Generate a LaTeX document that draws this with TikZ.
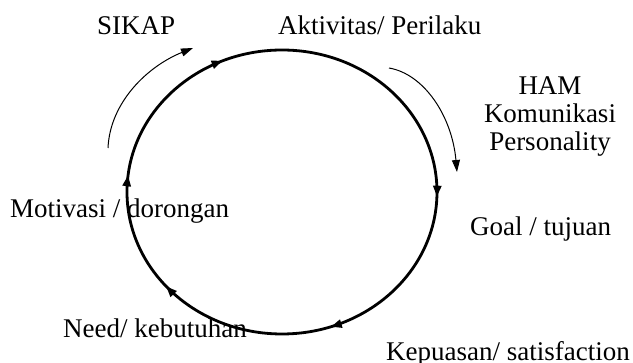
\documentclass[tikz,border=0pt]{standalone}
\usepackage{fontspec}
\setmainfont{Liberation Serif}
\usetikzlibrary{arrows.meta, decorations.markings}

\tikzset{
    txt/.style={inner sep=0pt, font=\fontsize{27}{28}\selectfont},
    ringtip/.style={decoration={markings,
        mark=at position 0.018 with {\arrow{Triangle[length=11pt, width=8pt]}},
        mark=at position 0.185 with {\arrow{Triangle[length=11pt, width=8pt]}},
        mark=at position 0.505 with {\arrow{Triangle[length=11pt, width=8pt]}},
        mark=at position 0.697 with {\arrow{Triangle[length=11pt, width=8pt]}},
        mark=at position 0.888 with {\arrow{Triangle[length=11pt, width=8pt]}}},
        postaction={decorate}},
    sidearrow/.style={line width=1pt, -{Triangle[length=12pt, width=8pt]}}
}

\begin{document}
\begin{tikzpicture}[x=1pt, y=-1pt]
    \useasboundingbox (0,0) rectangle (633,363);

    % the cycle
    \coordinate (ringstart) at (127,192);
    \draw[line width=2.8pt, ringtip] (ringstart)
        arc[start angle=180, end angle=540, x radius=155, y radius=142];

    % the stages
    \node[txt, anchor=base west] (sikap) at (97,35) {SIKAP};
    \node[txt, anchor=base west] (aktivitas) at (278,35) {Aktivitas/ Perilaku};
    \node[txt, align=center] (ham) at (550,117) {HAM\\Komunikasi\\Personality};
    \node[txt, anchor=base west] (motivasi) at (10,218) {Motivasi / dorongan};
    \node[txt, anchor=base west] (goal) at (470,236) {Goal / tujuan};
    \node[txt, anchor=base west] (need) at (63,338) {Need/ kebutuhan};
    \node[txt, anchor=base west] (kepuasan) at (386,361) {Kepuasan/ satisfaction};

    % outer arrows
    \coordinate (leftfrom) at (108,148);
    \coordinate (leftto) at (193,48);
    \coordinate (rightfrom) at (389,68);
    \coordinate (rightto) at (457,172);
    \draw[sidearrow] (leftfrom) .. controls (110,102) and (148,66) .. (leftto);
    \draw[sidearrow] (rightfrom) .. controls (424,74) and (452,116) .. (rightto);
\end{tikzpicture}
\end{document}
